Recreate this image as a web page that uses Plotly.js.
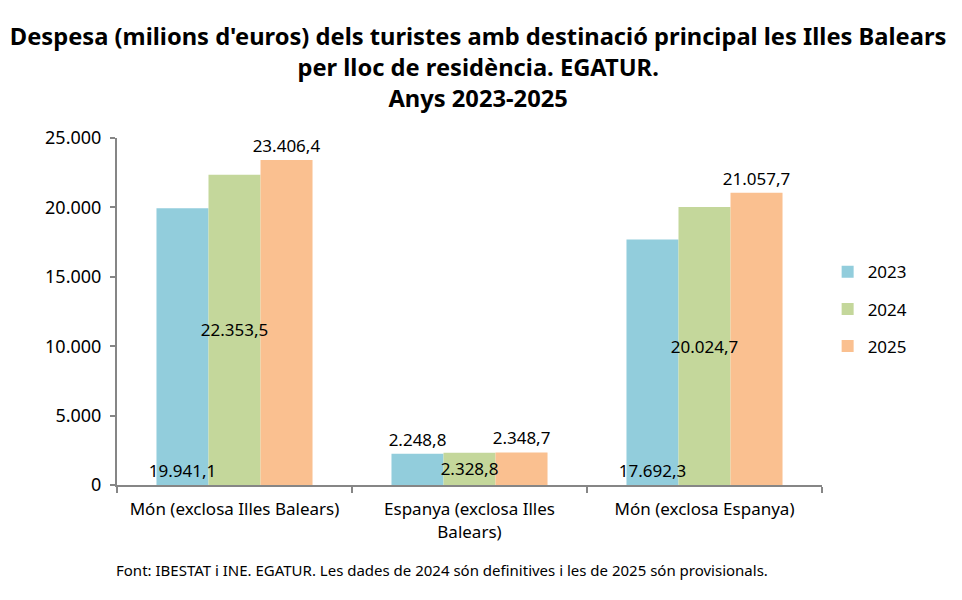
<!DOCTYPE html>
<html>
<head>
<meta charset="utf-8">
<script src="https://cdn.plot.ly/plotly-3.0.1.min.js"></script>
<style>
  html, body { margin: 0; padding: 0; background: #fff; }
  #chart { width: 962px; height: 600px; }
</style>
</head>
<body>
<div id="chart"></div>
<script>
// Despesa turística per lloc de residència (milions d'euros)
const categories = [
  "Món (exclosa Illes Balears)",
  "Espanya (exclosa Illes<br>Balears)",
  "Món (exclosa Espanya)"
];
const years = ["2023", "2024", "2025"];
const values2023 = [19941.1, 2248.8, 17692.3];
const values2024 = [22353.5, 2328.8, 20024.7];
const values2025 = [23406.4, 2348.7, 21057.7];
const colors = ["#92CDDC", "#C4D79B", "#FAC090"];

const font = "Noto Sans, Open Sans, sans-serif";

// Coloured bars (no labels)
function barTrace(name, vals, color) {
  return {
    type: "bar",
    name: name,
    legendgroup: name,
    offsetgroup: name,
    x: categories,
    y: vals,
    marker: { color: color, line: { width: 0 } },
    hoverinfo: "skip"
  };
}

// Transparent twin bars carrying the value labels, drawn last so that
// labels wider than a bar stay on top of the neighbouring bars
function labelTrace(name, vals, pos, anchor) {
  return {
    type: "bar",
    name: name,
    legendgroup: name,
    offsetgroup: name,
    showlegend: false,
    x: categories,
    y: vals,
    marker: { color: "rgba(0,0,0,0)", line: { width: 0 } },
    texttemplate: "%{y:,.1f}",
    textposition: pos,
    insidetextanchor: anchor,
    textangle: 0,
    constraintext: "none",
    cliponaxis: false,
    textfont: { family: font, size: 17, color: "#000" },
    hoverinfo: "skip"
  };
}

const data = [
  barTrace(years[0], values2023, colors[0]),
  barTrace(years[1], values2024, colors[1]),
  barTrace(years[2], values2025, colors[2]),
  labelTrace(years[0], values2023, ["inside", "outside", "inside"], "start"),
  labelTrace(years[1], values2024, "inside", "middle"),
  labelTrace(years[2], values2025, "outside", "middle")
];

const layout = {
  width: 962,
  height: 600,
  separators: ",.",
  font: { family: font, size: 17, color: "#000" },
  paper_bgcolor: "#fff",
  plot_bgcolor: "#fff",
  margin: { l: 117, r: 140, t: 138, b: 115 },
  title: {
    text: "<b>Despesa (milions d'euros) dels turistes amb destinació principal les Illes Balears<br>per lloc de residència. EGATUR.<br>Anys 2023-2025</b>",
    font: { family: font, size: 23.7, color: "#000" },
    x: 0.497,
    xanchor: "center",
    y: 0.925,
    yanchor: "top"
  },
  barmode: "group",
  bargap: 0.336,
  bargroupgap: 0,
  showlegend: true,
  legend: {
    x: 1.008,
    xanchor: "left",
    y: 0.665,
    yanchor: "top",
    font: { family: font, size: 17 },
    tracegroupgap: 12,
    itemwidth: 30
  },
  xaxis: {
    type: "category",
    tickson: "boundaries",
    ticks: "outside",
    ticklen: 6,
    tickcolor: "#868686",
    tickwidth: 2,
    showline: true,
    linecolor: "#868686",
    linewidth: 2,
    showgrid: false,
    ticklabelstandoff: 8,
    tickfont: { family: font, size: 17 },
    fixedrange: true
  },
  yaxis: {
    range: [0, 25000],
    dtick: 5000,
    tickformat: ",d",
    ticks: "outside",
    ticklen: 5,
    tickcolor: "#868686",
    tickwidth: 2,
    showline: true,
    linecolor: "#868686",
    linewidth: 2,
    showgrid: false,
    zeroline: false,
    ticklabelstandoff: 5,
    tickfont: { family: font, size: 18 },
    fixedrange: true
  },
  annotations: [{
    xref: "paper", yref: "paper",
    x: -0.004, y: -0.245,
    xanchor: "left", yanchor: "middle",
    showarrow: false,
    text: "Font: IBESTAT i INE. EGATUR. Les dades de 2024 són definitives i les de 2025 són provisionals.",
    font: { family: font, size: 15, color: "#000" }
  }]
};

Plotly.newPlot("chart", data, layout, { displayModeBar: false, staticPlot: true });
</script>
</body>
</html>
